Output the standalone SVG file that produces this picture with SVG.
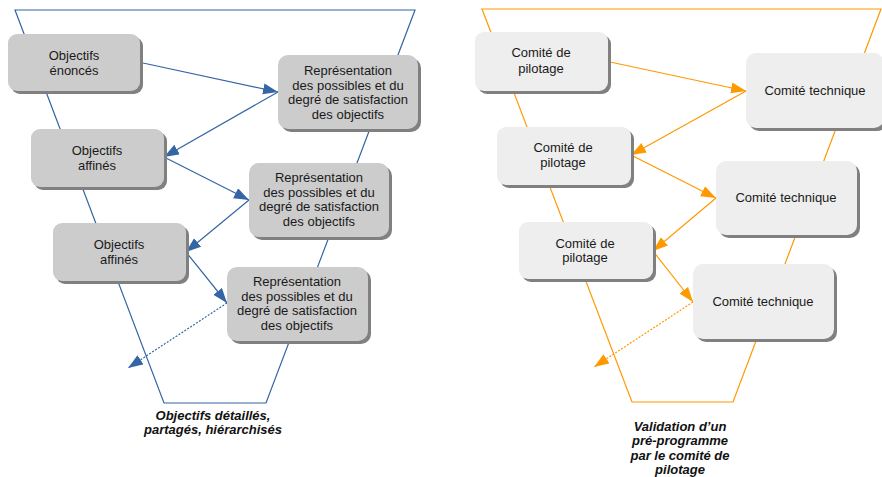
<svg xmlns="http://www.w3.org/2000/svg" width="882" height="477" viewBox="0 0 882 477">
<defs>
<style>
.bg{fill:#ffffff}
.frameL{fill:none;stroke:#3465a4;stroke-width:1.2}
.frameR{fill:none;stroke:#ff9900;stroke-width:1.2}
.sh{fill:#808080}
.nL{fill:#cccccc}
.nR{fill:#eeeeee}
.t{font-family:"Liberation Sans",Arial,sans-serif;font-size:13px;fill:#1a1a1a;text-anchor:middle}
.cap{font-family:"Liberation Sans",Arial,sans-serif;font-size:13px;font-weight:bold;font-style:italic;fill:#111111;text-anchor:middle}
.cL{fill:none;stroke:#3465a4;stroke-width:1.2}
.cR{fill:none;stroke:#ff9900;stroke-width:1.2}
.dot{stroke-dasharray:2 1.5}
</style>
<marker id="aL" markerUnits="userSpaceOnUse" markerWidth="16" markerHeight="12" refX="15" refY="5.5" orient="auto">
<path d="M0,0 L15,5.5 L0,11 z" fill="#3465a4"/>
</marker>
<marker id="aR" markerUnits="userSpaceOnUse" markerWidth="16" markerHeight="12" refX="15" refY="5.5" orient="auto">
<path d="M0,0 L15,5.5 L0,11 z" fill="#ff9900"/>
</marker>
</defs>
<rect class="bg" x="0" y="0" width="882" height="477"/>

<g id="frames">
<path class="frameL" d="M15,10 L415,10 L266,403 L164,403 Z"/>
<path class="frameR" d="M482,9 L881,9 L733,402 L632,402 Z"/>
</g>

<g id="connectors">
<line class="cL" x1="143" y1="63" x2="278" y2="92" marker-end="url(#aL)"/>
<line class="cL" x1="278" y1="92" x2="164" y2="157" marker-end="url(#aL)"/>
<line class="cL" x1="164" y1="157" x2="249" y2="200" marker-end="url(#aL)"/>
<line class="cL" x1="249" y1="200" x2="186" y2="252" marker-end="url(#aL)"/>
<line class="cL" x1="186" y1="252" x2="227" y2="303" marker-end="url(#aL)"/>
<line class="cL dot" x1="227" y1="303" x2="128" y2="368" marker-end="url(#aL)"/>

<line class="cR" x1="610" y1="62" x2="746" y2="91" marker-end="url(#aR)"/>
<line class="cR" x1="746" y1="91" x2="631" y2="155" marker-end="url(#aR)"/>
<line class="cR" x1="631" y1="155" x2="716" y2="198" marker-end="url(#aR)"/>
<line class="cR" x1="716" y1="198" x2="653" y2="251" marker-end="url(#aR)"/>
<line class="cR" x1="653" y1="251" x2="693" y2="302" marker-end="url(#aR)"/>
<line class="cR dot" x1="693" y1="302" x2="594" y2="367" marker-end="url(#aR)"/>
</g>

<g id="nodeL1">
<rect class="sh" x="11" y="37" width="132" height="57" rx="9"/>
<rect class="nL" x="8" y="34" width="132" height="57" rx="9"/>
<text class="t" x="74" y="60">Objectifs</text>
<text class="t" x="74" y="75">énoncés</text>
</g>
<g id="nodeL2">
<rect class="sh" x="281" y="58" width="140" height="74" rx="10"/>
<rect class="nL" x="278" y="55" width="140" height="74" rx="10"/>
<text class="t" x="348" y="75">Représentation</text>
<text class="t" x="348" y="90">des possibles et du</text>
<text class="t" x="348" y="104">degré de satisfaction</text>
<text class="t" x="348" y="119">des objectifs</text>
</g>
<g id="nodeL3">
<rect class="sh" x="34" y="132" width="133" height="58" rx="9"/>
<rect class="nL" x="31" y="129" width="133" height="58" rx="9"/>
<text class="t" x="97" y="155">Objectifs</text>
<text class="t" x="97" y="170">affinés</text>
</g>
<g id="nodeL4">
<rect class="sh" x="252" y="166" width="140" height="74" rx="10"/>
<rect class="nL" x="249" y="163" width="140" height="74" rx="10"/>
<text class="t" x="319" y="182">Représentation</text>
<text class="t" x="319" y="197">des possibles et du</text>
<text class="t" x="319" y="211">degré de satisfaction</text>
<text class="t" x="319" y="226">des objectifs</text>
</g>
<g id="nodeL5">
<rect class="sh" x="56" y="226" width="133" height="58" rx="9"/>
<rect class="nL" x="53" y="223" width="133" height="58" rx="9"/>
<text class="t" x="119" y="249">Objectifs</text>
<text class="t" x="119" y="264">affinés</text>
</g>
<g id="nodeL6">
<rect class="sh" x="230" y="270" width="141" height="74" rx="10"/>
<rect class="nL" x="227" y="267" width="141" height="74" rx="10"/>
<text class="t" x="297" y="286">Représentation</text>
<text class="t" x="297" y="301">des possibles et du</text>
<text class="t" x="297" y="315">degré de satisfaction</text>
<text class="t" x="297" y="330">des objectifs</text>
</g>

<g id="nodeR1">
<rect class="sh" x="478" y="35" width="133" height="59" rx="9"/>
<rect class="nR" x="475" y="32" width="133" height="59" rx="9"/>
<text class="t" x="541" y="57">Comité de</text>
<text class="t" x="541" y="73">pilotage</text>
</g>
<g id="nodeR2">
<rect class="sh" x="749" y="56" width="138" height="75" rx="10"/>
<rect class="nR" x="746" y="53" width="138" height="75" rx="10"/>
<text class="t" x="815" y="95">Comité technique</text>
</g>
<g id="nodeR3">
<rect class="sh" x="500" y="130" width="134" height="58" rx="9"/>
<rect class="nR" x="497" y="127" width="134" height="58" rx="9"/>
<text class="t" x="563" y="152">Comité de</text>
<text class="t" x="563" y="167">pilotage</text>
</g>
<g id="nodeR4">
<rect class="sh" x="719" y="164" width="141" height="74" rx="10"/>
<rect class="nR" x="716" y="161" width="141" height="74" rx="10"/>
<text class="t" x="786" y="202">Comité technique</text>
</g>
<g id="nodeR5">
<rect class="sh" x="522" y="225" width="134" height="57" rx="9"/>
<rect class="nR" x="519" y="222" width="134" height="57" rx="9"/>
<text class="t" x="585" y="248">Comité de</text>
<text class="t" x="585" y="262">pilotage</text>
</g>
<g id="nodeR6">
<rect class="sh" x="696" y="267" width="141" height="75" rx="10"/>
<rect class="nR" x="693" y="264" width="141" height="75" rx="10"/>
<text class="t" x="763" y="306">Comité technique</text>
</g>

<g id="captions">
<text class="cap" x="213" y="420">Objectifs détaillés,</text>
<text class="cap" x="213" y="434">partagés, hiérarchisés</text>
<text class="cap" x="680" y="431">Validation d’un</text>
<text class="cap" x="680" y="445">pré-programme</text>
<text class="cap" x="680" y="460">par le comité de</text>
<text class="cap" x="680" y="474">pilotage</text>
</g>
</svg>
